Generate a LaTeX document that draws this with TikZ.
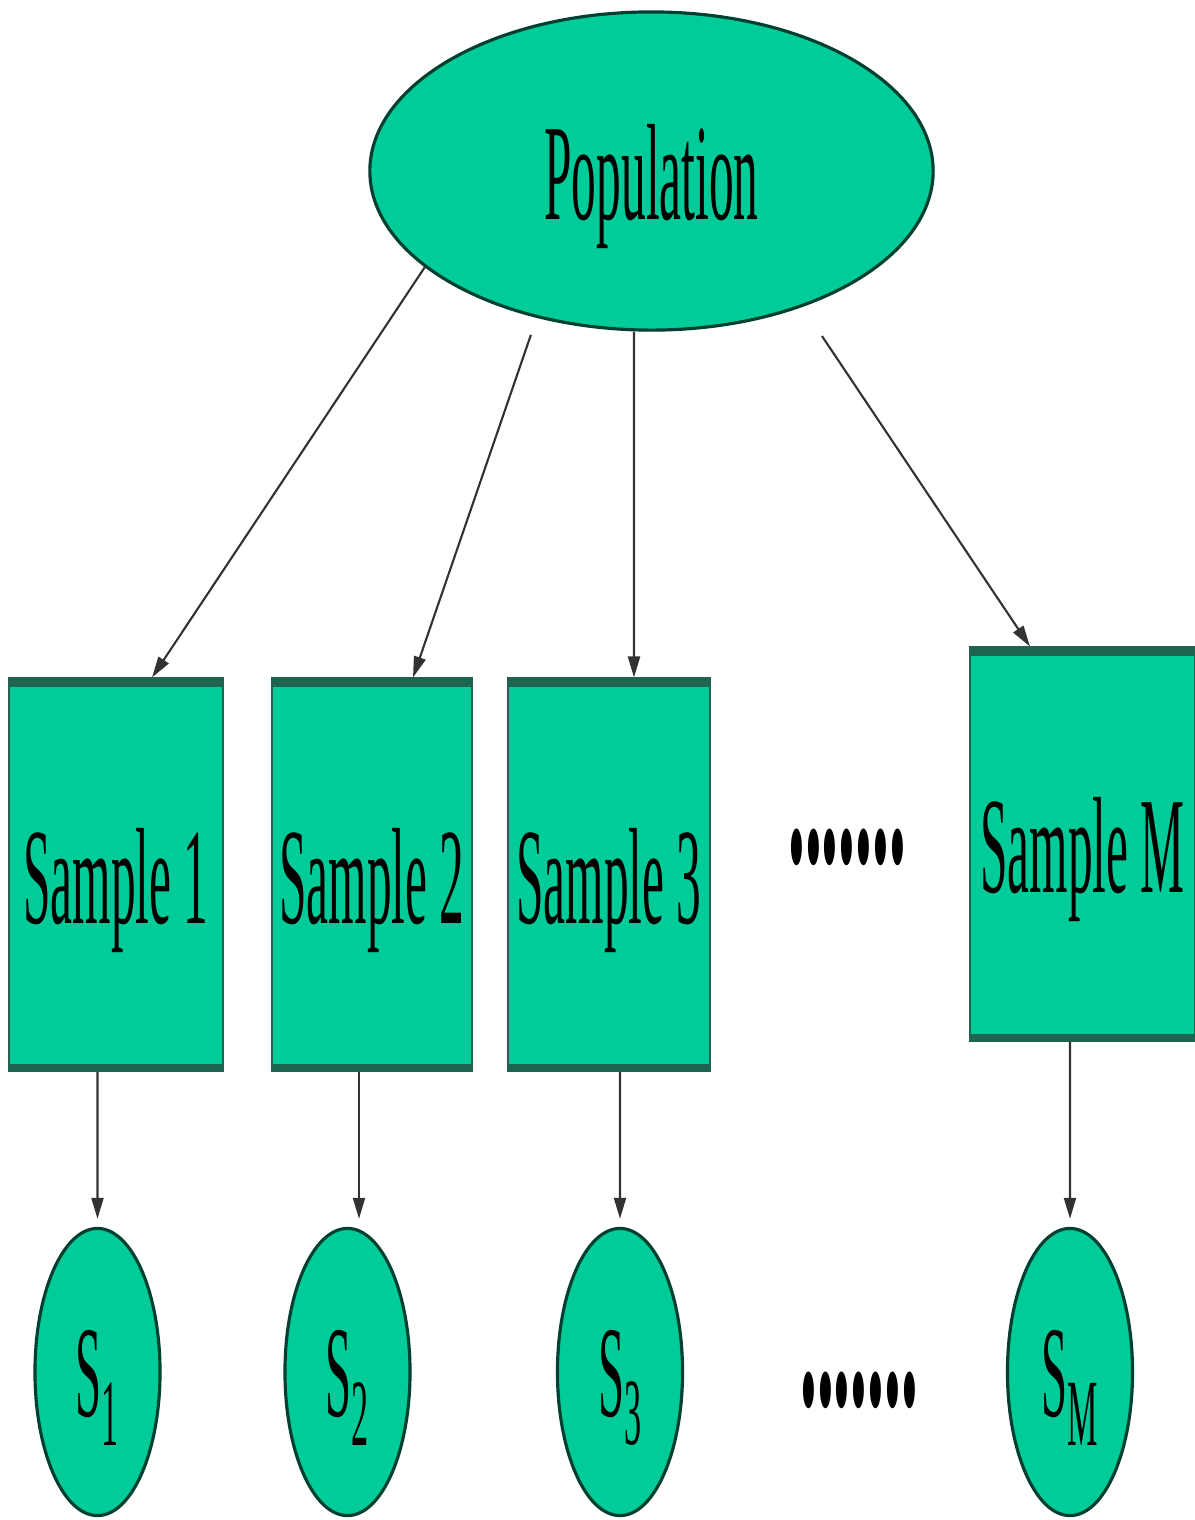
\documentclass[tikz,border=0pt]{standalone}
\usepackage{fontspec}
\setmainfont{Liberation Serif}
\usetikzlibrary{arrows.meta, shapes.geometric}

\definecolor{popfill}{RGB}{0,204,153}
\definecolor{rimcol}{RGB}{0,64,48}
\definecolor{bandcol}{RGB}{30,100,80}
\definecolor{wirecol}{RGB}{50,50,50}

\newcommand{\narrow}[1]{\raisebox{0pt}[\dimexpr\height+9pt\relax][\depth]{\scalebox{0.36}[1]{#1}}}
\newcommand{\subidx}[1]{\raisebox{-0.22em}{\fontsize{27}{27}\selectfont #1}}

\begin{document}
\begin{tikzpicture}[
  x=0.01cm,
  y=-0.01cm,
  bigoval/.style={
    ellipse,
    draw=rimcol,
    line width=0.9pt,
    fill=popfill,
    inner sep=0pt,
    minimum width=5.63cm,
    minimum height=3.18cm,
    font=\fontsize{39}{40}\selectfont
  },
  samplebox/.style={
    rectangle,
    draw=bandcol,
    line width=0.8pt,
    fill=popfill,
    inner sep=0pt,
    minimum height=3.91cm,
    font=\fontsize{39}{40}\selectfont
  },
  statoval/.style={
    ellipse,
    draw=rimcol,
    line width=0.9pt,
    fill=popfill,
    inner sep=0pt,
    minimum width=1.25cm,
    minimum height=2.87cm,
    font=\fontsize{37}{38}\selectfont
  },
  band/.style={draw=bandcol, line width=1mm},
  arrow/.style={-{Triangle[length=2.1mm, width=1.2mm]}, draw=wirecol, line width=0.6pt},
  dotrow/.style={inner sep=0pt, font=\fontsize{39}{40}\selectfont\bfseries}
]

\useasboundingbox (0,0) rectangle (1195,1520);

\node[bigoval] (pop) at (651.5,171) {\narrow{Population}};

\node[samplebox, minimum width=2.14cm] (smp1) at (116,874.5) {\narrow{Sample 1}};
\node[samplebox, minimum width=2.00cm] (smp2) at (372,874.5) {\narrow{Sample 2}};
\node[samplebox, minimum width=2.02cm] (smp3) at (609,874.5) {\narrow{Sample 3}};
\node[samplebox, minimum width=2.25cm, minimum height=3.92cm] (smpM) at (1082.5,844)
{\narrow{Sample M}};

\node[dotrow] (dots1) at (847,847) {\scalebox{0.49}[1.65]{.......}};

\node[statoval] (s1) at (97.5,1372) {\narrow{S\subidx{1}}};
\node[statoval] (s2) at (347.5,1372) {\narrow{S\subidx{2}}};
\node[statoval] (s3) at (620,1372) {\narrow{S\subidx{3}}};
\node[statoval] (sM) at (1070,1372) {\narrow{S\subidx{M}}};

\node[dotrow] (dots2) at (859,1390) {\scalebox{0.49}[1.65]{.......}};

% darker top and bottom edges of the boxes
\draw[band] ([yshift=-0.5mm]smp1.north west) -- ([yshift=-0.5mm]smp1.north east);
\draw[band] ([yshift=-0.5mm]smp2.north west) -- ([yshift=-0.5mm]smp2.north east);
\draw[band] ([yshift=-0.5mm]smp3.north west) -- ([yshift=-0.5mm]smp3.north east);
\draw[band] ([yshift=-0.5mm]smpM.north west) -- ([yshift=-0.5mm]smpM.north east);
\draw[band, line width=0.8mm] ([yshift=0.4mm]smp1.south west) -- ([yshift=0.4mm]smp1.south east);
\draw[band, line width=0.8mm] ([yshift=0.4mm]smp2.south west) -- ([yshift=0.4mm]smp2.south east);
\draw[band, line width=0.8mm] ([yshift=0.4mm]smp3.south west) -- ([yshift=0.4mm]smp3.south east);
\draw[band, line width=0.8mm] ([yshift=0.4mm]smpM.south west) -- ([yshift=0.4mm]smpM.south east);

\draw[arrow] (pop.203) -- ([xshift=3.6mm]smp1.north);
\draw[arrow, shorten <=1.8mm] (pop.232) -- ([xshift=4.1mm]smp2.north);
\draw[arrow] ([xshift=-1.75mm]pop.south) -- ([xshift=2.5mm]smp3.north);
\draw[arrow, shorten <=3.5mm] (pop.-42) -- ([xshift=-5.25mm]smpM.north);

\draw[arrow, shorten >=0.8mm] ([xshift=-1.85mm]smp1.south) -- (s1.north);
\draw[arrow, shorten >=0.8mm] ([xshift=-1.3mm]smp2.south) -- ([xshift=-1.3mm]smp2.south |- s2.north);
\draw[arrow, shorten >=0.8mm] ([xshift=1.1mm]smp3.south) -- (s3.north);
\draw[arrow, shorten >=0.8mm] ([xshift=-1.25mm]smpM.south) -- (sM.north);

\end{tikzpicture}
\end{document}
